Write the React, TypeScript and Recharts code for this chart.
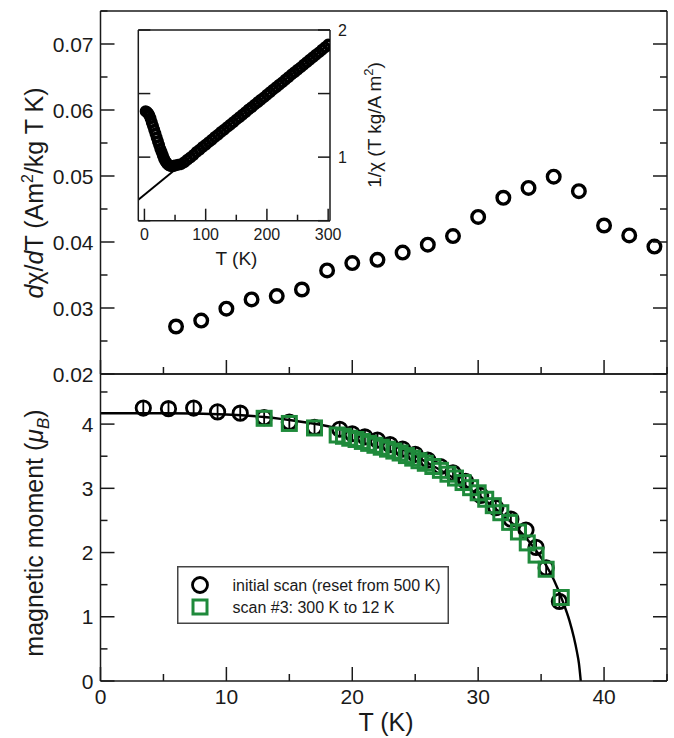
import React from 'react';
import { ScatterChart, ComposedChart, Scatter, Line, XAxis, YAxis, ErrorBar, Legend } from 'recharts';

const FONT = '"Liberation Sans", Arial, Helvetica, sans-serif';
const INK = '#1a1a1a';
const GREEN = '#1f8a3b';

// upper panel: d(chi)/dT against T
const dTemps = [6, 8, 10, 12, 14, 16, 18, 20, 22, 24, 26, 28, 30, 32, 34, 36, 38, 40, 42, 44];
const dChi = [0.0272, 0.0281, 0.0299, 0.0313, 0.0318, 0.0328, 0.0357, 0.0368, 0.0373, 0.0384, 0.0396, 0.0409, 0.0438, 0.0467, 0.0482, 0.0499, 0.0477, 0.0425, 0.041, 0.0393];

// inset: 1/chi against T, and the Curie-Weiss line
const invTemps = [2, 4, 6, 8, 10, 12, 14, 16, 18, 20, 22, 24, 26, 28, 30, 32, 34, 36, 38, 40, 42, 44, 46, 48, 50, 55, 60, 65, 70, 75,
  80, 85, 90, 95, 100, 105, 110, 115, 120, 125, 130, 135, 140, 145, 150, 155, 160, 165, 170, 175, 180, 185, 190, 195,
  200, 205, 210, 215, 220, 225, 230, 235, 240, 245, 250, 255, 260, 265, 270, 275, 280, 285, 290, 295, 300];
const invChi = [1.36, 1.355, 1.345, 1.33, 1.305, 1.275, 1.245, 1.215, 1.185, 1.155, 1.125, 1.095, 1.065, 1.04, 1.015, 0.99, 0.97, 0.955, 0.945, 0.937, 0.932, 0.93, 0.93, 0.932, 0.935, 0.94, 0.945, 0.96, 0.98, 0.997,
  1.017, 1.04, 1.058, 1.08, 1.098, 1.118, 1.137, 1.158, 1.176, 1.197, 1.215, 1.236, 1.255, 1.274, 1.295, 1.313, 1.334, 1.353, 1.374, 1.392, 1.413, 1.431, 1.452, 1.47,
  1.491, 1.51, 1.531, 1.549, 1.57, 1.588, 1.609, 1.628, 1.649, 1.667, 1.688, 1.706, 1.727, 1.746, 1.766, 1.785, 1.806, 1.824, 1.845, 1.864, 1.885];
const cwTemps = [-10, 300];
const cwVals = [0.665, 1.885];

// lower panel: magnetic moment
const initTemps = [3.4, 5.4, 7.4, 9.3, 11.1, 13.0, 15.0, 17.0, 19.0, 20.0, 21.0, 22.0, 23.0, 24.0, 25.0, 26.0, 27.0, 28.0, 29.0, 30.2, 31.4, 32.6, 33.8, 34.6, 35.4, 36.45];
const initMoment = [4.25, 4.24, 4.25, 4.19, 4.17, 4.1, 4.03, 3.95, 3.92, 3.85, 3.8, 3.75, 3.68, 3.61, 3.53, 3.44, 3.34, 3.24, 3.11, 2.89, 2.7, 2.52, 2.35, 2.08, 1.76, 1.24];
const initErr = [0.11, 0.11, 0.11, 0.1, 0.1, 0.1, 0.1, 0.1, 0.1, 0.1, 0.1, 0.1, 0.1, 0.1, 0.1, 0.1, 0.1, 0.1, 0.1, 0.1, 0.1, 0.1, 0.1, 0.1, 0.1, 0.1];
const scanTemps = [13.0, 15.0, 17.0, 18.8, 19.3, 19.8, 20.3, 20.8, 21.3, 21.8, 22.3, 22.8, 23.3, 23.8, 24.3, 24.8, 25.3, 25.8, 26.4, 27.0, 27.6, 28.2, 28.8, 29.4, 30.0, 30.6, 31.2, 31.8, 32.5, 33.2, 33.9, 34.6, 35.4, 36.6];
const scanMoment = [4.09, 4.01, 3.94, 3.83, 3.81, 3.78, 3.76, 3.73, 3.7, 3.67, 3.64, 3.61, 3.58, 3.55, 3.51, 3.47, 3.43, 3.39, 3.34, 3.28, 3.22, 3.16, 3.09, 3.01, 2.93, 2.83, 2.73, 2.62, 2.47, 2.32, 2.15, 1.96, 1.74, 1.3];
const fitTemps = [0, 5, 10, 13, 15.8, 18.5, 21, 23.75, 26.4, 29, 31.7, 33, 34.3, 35.4, 36, 36.7, 37.25, 37.6, 37.85, 38.0, 38.15];
const fitMoment = [4.17, 4.17, 4.15, 4.11, 4.04, 3.95, 3.83, 3.63, 3.35, 3.04, 2.63, 2.4, 2.11, 1.8, 1.58, 1.25, 0.94, 0.68, 0.45, 0.28, 0];
const seriesNames = ['initial scan (reset from 500 K)', 'scan #3: 300 K to 12 K'];

// ticks
const tTicks = [0, 5, 10, 15, 20, 25, 30, 35, 40, 45];
const tMajor = [0, 10, 20, 30, 40];
const dTicks = [0.02, 0.025, 0.03, 0.035, 0.04, 0.045, 0.05, 0.055, 0.06, 0.065, 0.07, 0.075];
const dMajor = [0.02, 0.03, 0.04, 0.05, 0.06, 0.07];
const mTicks = [0, 0.5, 1, 1.5, 2, 2.5, 3, 3.5, 4, 4.5];
const mMajor = [0, 1, 2, 3, 4];
const insetTTicks = [0, 50, 100, 150, 200, 250, 300];
const insetTMajor = [0, 100, 200, 300];
const insetYTicks = [0.5, 1, 1.5, 2];
const insetYLabels = [1, 2];

const topData = dTemps.map((T, i) => ({ T, v: dChi[i] }));
const invData = invTemps.map((T, i) => ({ T, v: invChi[i] }));
const cwData = cwTemps.map((T, i) => ({ T, v: cwVals[i] }));
const initData = initTemps.map((T, i) => ({ T, M: initMoment[i], err: initErr[i] }));
const scanData = scanTemps.map((T, i) => ({ T, M: scanMoment[i] }));
const fitData = fitTemps.map((T, i) => ({ T, M: fitMoment[i] }));

type Side = 'left' | 'right' | 'top' | 'bottom';
const inList = (v: number, list: number[]) => list.some((m) => Math.abs(m - v) < 1e-6);

// axes get 1px of size (a zero-size axis is not drawn), ticks are drawn inward by hand
function tickMaker(side: Side, major: number[], opt: { labels?: number[]; fmt?: (v: number) => string; big?: number; small?: number; fs?: number } = {}) {
  const { labels = [], fmt = (v: number) => String(v), big = 14, small = 7, fs = 21 } = opt;
  return (p: any) => {
    const x = p.x;
    const y = p.y;
    const v = p.payload.value;
    const len = inList(v, major) ? big : small;
    const x2 = side === 'left' ? x + len : side === 'right' ? x - len : x;
    const y2 = side === 'top' ? y + len : side === 'bottom' ? y - len : y;
    let label = null;
    if (inList(v, labels)) {
      const t = { fontFamily: FONT, fontSize: fs, fill: INK };
      if (side === 'left') label = <text {...t} x={x - 7} y={y + fs * 0.36} textAnchor="end">{fmt(v)}</text>;
      if (side === 'right') label = <text {...t} x={x + 8} y={y + fs * 0.36} textAnchor="start">{fmt(v)}</text>;
      if (side === 'bottom') label = <text {...t} x={x} y={y + fs * 0.72 + 8} textAnchor="middle">{fmt(v)}</text>;
    }
    return (
      <g>
        <line x1={x} y1={y} x2={x2} y2={y2} stroke={INK} strokeWidth={1.5} />
        {label}
      </g>
    );
  };
}

const axisBase = {
  type: 'number' as const,
  tickSize: 0,
  tickMargin: 0,
  tickLine: false,
  interval: 0 as const,
  allowDataOverflow: true,
  axisLine: { stroke: INK, strokeWidth: 1.5 },
};

const bigCircle = (p: any) => <circle cx={p.cx} cy={p.cy} r={6.3} fill="none" stroke="#000" strokeWidth={3.4} />;
const smallCircle = (p: any) => <circle cx={p.cx} cy={p.cy} r={4.3} fill="none" stroke="#000" strokeWidth={3.4} />;
const momentCircle = (p: any) => <circle cx={p.cx} cy={p.cy} r={7.2} fill="none" stroke="#000" strokeWidth={2.8} />;
const greenSquare = (p: any) => <rect x={p.cx - 7} y={p.cy - 7} width={14} height={14} fill="none" stroke={GREEN} strokeWidth={3} />;

function LegendBox() {
  return (
    <svg width={272} height={58} style={{ display: 'block' }}>
      <rect x={0.75} y={0.75} width={270.5} height={56.5} fill="#fff" stroke="#444" strokeWidth={1.5} />
      <circle cx={23} cy={19} r={7.5} fill="none" stroke="#000" strokeWidth={2.8} />
      <rect x={16} y={34} width={14} height={14} fill="none" stroke={GREEN} strokeWidth={3} />
      <text x={55.5} y={24.5} fontFamily={FONT} fontSize={16} fill={INK}>{seriesNames[0]}</text>
      <text x={55.5} y={46.5} fontFamily={FONT} fontSize={16} fill={INK}>{seriesNames[1]}</text>
    </svg>
  );
}

export default function App() {
  return (
    <div style={{ position: 'absolute', left: 0, top: 0, width: 674, height: 738, background: '#fff' }}>
      {/* upper panel */}
      <div style={{ position: 'absolute', left: 0, top: 0 }}>
        <ScatterChart width={674} height={385} margin={{ top: 10, right: 6, bottom: 10, left: 99.5 }}>
          <XAxis {...axisBase} dataKey="T" domain={[0, 45]} ticks={tTicks} height={1} tick={tickMaker('bottom', tMajor)} />
          <XAxis {...axisBase} xAxisId="top" orientation="top" domain={[0, 45]} ticks={tTicks} height={1} tick={tickMaker('top', tMajor)} />
          <YAxis {...axisBase} dataKey="v" domain={[0.02, 0.075]} ticks={dTicks} width={1}
            tick={tickMaker('left', dMajor, { labels: dMajor, fmt: (v) => v.toFixed(2) })} />
          <YAxis {...axisBase} yAxisId="right" orientation="right" domain={[0.02, 0.075]} ticks={dTicks} width={1} tick={tickMaker('right', dMajor)} />
          <Scatter data={topData} shape={bigCircle} isAnimationActive={false} />
        </ScatterChart>
      </div>

      {/* inset */}
      <div style={{ position: 'absolute', left: 100, top: 0 }}>
        <ComposedChart width={320} height={280} margin={{ top: 29, right: 89, bottom: 58.3, left: 37.3 }}>
          <XAxis {...axisBase} dataKey="T" domain={[-10, 303]} ticks={insetTTicks} height={1}
            tick={tickMaker('bottom', insetTMajor, { labels: insetTMajor, fs: 16, big: 12, small: 6 })} />
          <XAxis {...axisBase} xAxisId="top" orientation="top" domain={[-10, 303]} ticks={insetTTicks} height={1}
            tick={tickMaker('top', insetTMajor, { big: 12, small: 6 })} />
          <YAxis {...axisBase} dataKey="v" domain={[0.5, 2]} ticks={insetYTicks} width={1}
            tick={tickMaker('left', insetYTicks, { big: 12 })} />
          <YAxis {...axisBase} yAxisId="right" orientation="right" domain={[0.5, 2]} ticks={insetYTicks} width={1}
            tick={tickMaker('right', insetYTicks, { labels: insetYLabels, fs: 16, big: 12 })} />
          <Line data={cwData} dataKey="v" type="linear" stroke="#000" strokeWidth={2} dot={false} activeDot={false} isAnimationActive={false} />
          <Scatter data={invData} shape={smallCircle} isAnimationActive={false} />
        </ComposedChart>
      </div>

      {/* lower panel */}
      <div style={{ position: 'absolute', left: 0, top: 364 }}>
        <ComposedChart width={674} height={374} margin={{ top: 9, right: 6, bottom: 56, left: 99.5 }}>
          <XAxis {...axisBase} dataKey="T" domain={[0, 45]} ticks={tTicks} height={1}
            tick={tickMaker('bottom', tMajor, { labels: tMajor })} />
          <XAxis {...axisBase} xAxisId="top" orientation="top" domain={[0, 45]} ticks={tTicks} height={1} tick={tickMaker('top', tMajor)} />
          <YAxis {...axisBase} dataKey="M" domain={[0, 4.78]} ticks={mTicks} width={1}
            tick={tickMaker('left', mMajor, { labels: mMajor })} />
          <YAxis {...axisBase} yAxisId="right" orientation="right" domain={[0, 4.78]} ticks={mTicks} width={1} tick={tickMaker('right', mMajor)} />
          <Scatter name={seriesNames[0]} data={initData} shape={momentCircle} isAnimationActive={false}>
            <ErrorBar dataKey="err" direction="y" width={0} stroke="#000" strokeWidth={1.8} />
          </Scatter>
          <Scatter name={seriesNames[1]} data={scanData} shape={greenSquare} isAnimationActive={false} />
          <Line data={fitData} dataKey="M" type="monotone" stroke="#000" strokeWidth={2.4} dot={false} activeDot={false} isAnimationActive={false} />
          <Legend layout="horizontal" verticalAlign="middle" align="center"
            wrapperStyle={{ left: 177, top: 202, width: 272, height: 58 }} content={() => <LegendBox />} />
        </ComposedChart>
      </div>

      {/* axis titles */}
      <svg width={674} height={738} style={{ position: 'absolute', left: 0, top: 0, pointerEvents: 'none' }}>
        <g fontFamily={FONT} fill={INK}>
          <text transform="translate(43,193) rotate(-90)" textAnchor="middle" fontSize={25}>
            <tspan fontStyle="italic">d</tspan>χ/<tspan fontStyle="italic">d</tspan>T (Am<tspan dy={-10} fontSize={16}>2</tspan><tspan dy={10}>/kg T K)</tspan>
          </text>
          <text transform="translate(43,533) rotate(-90)" textAnchor="middle" fontSize={25}>
            magnetic moment (<tspan fontStyle="italic">μ</tspan><tspan dy={6} fontSize={17} fontStyle="italic">B</tspan><tspan dy={-6}>)</tspan>
          </text>
          <text x={386} y={731} textAnchor="middle" fontSize={25}>T (K)</text>
          <text x={236.5} y={265} textAnchor="middle" fontSize={19}>T (K)</text>
          <text transform="translate(381,125) rotate(-90)" textAnchor="middle" fontSize={19}>
            1/χ (T kg/A m<tspan dy={-8} fontSize={13}>2</tspan><tspan dy={8}>)</tspan>
          </text>
        </g>
      </svg>
    </div>
  );
}
